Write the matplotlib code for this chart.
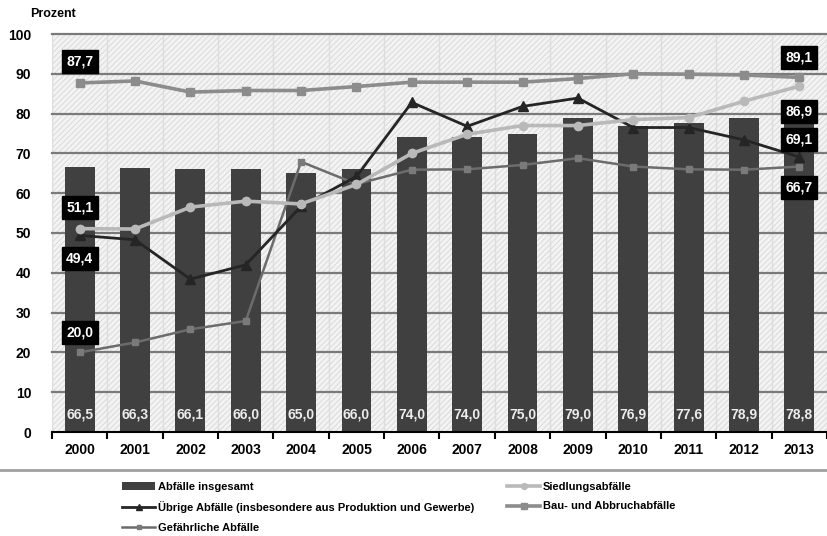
import numpy as np
import matplotlib
matplotlib.use('Agg')
import matplotlib.pyplot as plt
from matplotlib.patches import Rectangle
from matplotlib.lines import Line2D

plt.rcParams['font.family'] = ['Liberation Sans', 'DejaVu Sans']
plt.rcParams['hatch.linewidth'] = 0.6

YEARS = ['2000', '2001', '2002', '2003', '2004', '2005', '2006', '2007',
         '2008', '2009', '2010', '2011', '2012', '2013']
INSGESAMT = [66.5, 66.3, 66.1, 66.0, 65.0, 66.0, 74.0, 74.0, 75.0, 79.0, 76.9, 77.6, 78.9, 78.8]
SIEDLUNG = [51.1, 51.0, 56.5, 58.0, 57.3, 62.2, 70.0, 74.8, 77.0, 77.0, 78.5, 79.0, 83.1, 86.9]
UEBRIGE = [49.4, 48.3, 38.4, 42.0, 56.7, 64.2, 82.8, 76.8, 81.8, 83.9, 76.5, 76.5, 73.4, 69.1]
BAU = [87.7, 88.2, 85.4, 85.8, 85.8, 86.8, 87.9, 87.9, 87.9, 88.8, 90.0, 89.9, 89.7, 89.1]
GEFAEHRLICH = [20.0, 22.5, 25.8, 27.9, 67.9, 62.3, 65.9, 66.0, 67.1, 68.8, 66.7, 66.0, 65.9, 66.7]
YTICKS = [0, 10, 20, 30, 40, 50, 60, 70, 80, 90, 100]


def de(v):
    return f"{v:.1f}".replace('.', ',')


fig = plt.figure(figsize=(8.28, 5.36), dpi=100)
ax = fig.add_axes([52 / 828, 104 / 536, 775 / 828, 398 / 536])
ax.patch.set_visible(False)
x = np.arange(len(YEARS))
ax.set_xlim(-0.5, len(YEARS) - 0.5)
ax.set_ylim(0, 100)

# hatched light background + faint column separators
ax.add_patch(Rectangle((0, 0), 1, 1, transform=ax.transAxes, facecolor='#f3f3f3',
                       edgecolor='#d6d6d6', hatch='//////', lw=0, zorder=0))
for b in np.arange(-0.5, len(YEARS), 1.0):
    ax.axvline(b, color='#dddddd', lw=1.0, zorder=0.5)
for t in YTICKS[1:]:
    ax.axhline(t, color='#7a7a7a', lw=1.6, zorder=1, clip_on=False)

ax.bar(x, INSGESAMT, width=0.54, color='#404040', zorder=2, label='Abfälle insgesamt')
for xi, v in zip(x, INSGESAMT):
    ax.text(xi, 4.3, de(v), ha='center', va='center', color='#ececec',
            fontsize=10, fontweight='bold', zorder=3)

l_gef, = ax.plot(x, GEFAEHRLICH, '-s', color='#6c6c6c', lw=1.8, ms=4,
                 mfc='#7a7a7a', mec='#7a7a7a', zorder=4, label='Gefährliche Abfälle')
l_ueb, = ax.plot(x, UEBRIGE, '-^', color='#252525', lw=2.0, ms=7, zorder=5,
                 label='Übrige Abfälle (insbesondere aus Produktion und Gewerbe)')
l_sied, = ax.plot(x, SIEDLUNG, '-o', color='#b9b9b9', lw=2.6, ms=6, zorder=6,
                  label='Siedlungsabfälle')
l_bau, = ax.plot(x, BAU, '-s', color='#8c8c8c', lw=2.6, ms=6, zorder=7,
                 label='Bau- und Abbruchabfälle')

# boxed start / end labels
box = dict(boxstyle='square,pad=0.32', fc='black', ec='black')
for series, off0, off1 in [(BAU, 5.3, 5.0), (SIEDLUNG, 5.2, -6.3),
                           (UEBRIGE, -5.7, 4.5), (GEFAEHRLICH, 4.9, -5.3)]:
    for idx, off in [(0, off0), (len(YEARS) - 1, off1)]:
        ax.text(x[idx], series[idx] + off, de(series[idx]), ha='center', va='center',
                color='white', fontsize=10, fontweight='bold', bbox=box, zorder=10)

for s in ['left', 'right', 'top']:
    ax.spines[s].set_visible(False)
ax.spines['bottom'].set_linewidth(1.5)
ax.spines['bottom'].set_zorder(8)
ax.set_xticks(x)
ax.set_xticklabels(YEARS, fontsize=10, fontweight='bold')
ax.set_xticks(np.arange(-0.5, len(YEARS), 1.0), minor=True)
ax.tick_params(axis='x', which='major', length=0, pad=8)
ax.tick_params(axis='x', which='minor', length=5, width=1.5, direction='out')
ax.set_yticks(YTICKS)
ax.set_yticklabels([str(t) for t in YTICKS], fontsize=10, fontweight='bold')
ax.tick_params(axis='y', length=0, pad=15)

fig.text(30 / 828, 1 - 14 / 536, 'Prozent', fontsize=9, fontweight='bold', va='center')
fig.add_artist(Line2D([0, 1], [66 / 536, 66 / 536], transform=fig.transFigure,
                      color='#a0a0a0', lw=2))

bar_handle = ax.containers[0]
leg_font = dict(family=['Liberation Sans Narrow', 'Liberation Sans'], weight='bold', size=8)
kw = dict(frameon=False, prop=leg_font, handlelength=3.0, handletextpad=0.25,
          labelspacing=0.85, borderaxespad=0, borderpad=0, markerscale=0.7)
fig.legend([bar_handle, l_ueb, l_gef],
           ['Abfälle insgesamt', 'Übrige Abfälle (insbesondere aus Produktion und Gewerbe)',
            'Gefährliche Abfälle'],
           loc='upper left', bbox_to_anchor=(122 / 828, 1 - 482 / 536), **kw)
fig.legend([l_sied, l_bau], ['Siedlungsabfälle', 'Bau- und Abbruchabfälle'],
           loc='upper left', bbox_to_anchor=(507 / 828, 1 - 482 / 536), **kw)

fig.savefig('out.png', dpi=100)
